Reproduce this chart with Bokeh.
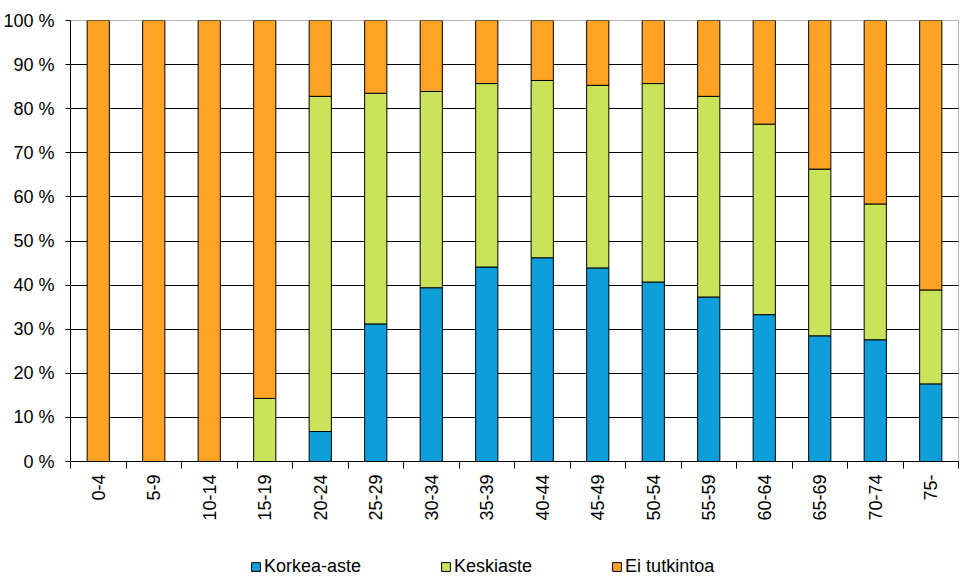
import math
from bokeh.plotting import figure
from bokeh.layouts import column
from bokeh.models import (ColumnDataSource, FixedTicker, PrintfTickFormatter,
                          Legend, LegendItem, Range1d, LinearAxis, Grid)
from bokeh.embed import file_html
from bokeh.resources import INLINE

categories = ["0-4", "5-9", "10-14", "15-19", "20-24", "25-29", "30-34", "35-39",
              "40-44", "45-49", "50-54", "55-59", "60-64", "65-69", "70-74", "75-"]
korkea = [0, 0, 0, 0, 6.8, 31.2, 39.4, 44.1, 46.2, 43.9, 40.7, 37.3, 33.3, 28.5, 27.6, 17.6]
keski = [0, 0, 0, 14.3, 76.0, 52.3, 44.5, 41.6, 40.2, 41.4, 45.0, 45.5, 43.2, 37.8, 30.8, 21.3]
ei = [100, 100, 100, 85.7, 17.2, 16.5, 16.1, 14.3, 13.6, 14.7, 14.3, 17.2, 23.5, 33.7, 41.6, 61.1]
series = ["Korkea-aste", "Keskiaste", "Ei tutkintoa"]
colors = ["#0E9FDB", "#C9E45B", "#FFA324"]
y_ticks = list(range(0, 101, 10))

xs = [i + 0.5 for i in range(len(categories))]
src = ColumnDataSource(dict(x=xs, k=korkea, m=keski, e=ei))

FONT = "Liberation Sans"

p = figure(width=962, height=535, output_backend="svg", toolbar_location=None,
           x_range=Range1d(0, len(categories)), y_range=Range1d(0, 100),
           min_border_left=70, min_border_top=20, min_border_right=4,
           min_border_bottom=74, x_axis_location=None, y_axis_location=None)

renderers = p.vbar_stack(["k", "m", "e"], x="x", width=0.4, source=src,
                         fill_color=colors, line_color="black", line_width=1)

# y axis
yaxis = LinearAxis(ticker=FixedTicker(ticks=y_ticks),
                   formatter=PrintfTickFormatter(format="%d %%"))
yaxis.major_tick_in = 0
yaxis.major_tick_out = 5
yaxis.minor_tick_out = 0
yaxis.minor_tick_in = 0
yaxis.axis_line_color = "black"
yaxis.major_label_text_font = FONT
yaxis.major_label_text_font_size = "18px"
yaxis.major_label_text_color = "black"
yaxis.major_label_standoff = 11
p.add_layout(yaxis, "left")

# x axis: labels at centres, ticks between categories
xaxis = LinearAxis(ticker=FixedTicker(ticks=xs, minor_ticks=list(range(len(categories) + 1))))
xaxis.major_label_overrides = {x: c for x, c in zip(xs, categories)}
xaxis.major_tick_in = 0
xaxis.major_tick_out = 0
xaxis.minor_tick_in = 0
xaxis.minor_tick_out = 7
xaxis.minor_tick_line_color = "black"
xaxis.axis_line_color = "black"
xaxis.major_label_orientation = math.pi / 2
xaxis.major_label_text_font = FONT
xaxis.major_label_text_font_size = "18px"
xaxis.major_label_text_color = "black"
xaxis.major_label_standoff = 6
p.add_layout(xaxis, "below")

p.ygrid.grid_line_color = None
p.xgrid.grid_line_color = None
grid = Grid(dimension=1, ticker=FixedTicker(ticks=y_ticks), grid_line_color="black",
            grid_line_width=1, level="underlay")
p.add_layout(grid)
p.outline_line_color = "#b8b8b8"
p.background_fill_color = "white"
p.border_fill_color = "white"

# legend in a strip below the chart (hidden copies of the series provide the swatches)
lf = figure(width=962, height=45, output_backend="svg", toolbar_location=None,
            x_range=Range1d(0, len(categories)), y_range=Range1d(0, 100),
            min_border_left=0, min_border_right=0, min_border_top=0, min_border_bottom=0,
            x_axis_location=None, y_axis_location=None)
lf.outline_line_color = None
lf.xgrid.grid_line_color = None
lf.ygrid.grid_line_color = None
lrs = lf.vbar_stack(["k", "m", "e"], x="x", width=0.4, source=src,
                    fill_color=colors, line_color="black", line_width=1, visible=False)

legend = Legend(items=[LegendItem(label=s, renderers=[r]) for s, r in zip(series, lrs)],
                orientation="horizontal", location=(180, 3))
legend.margin = 0
legend.padding = 0
legend.spacing = 79
legend.border_line_color = None
legend.background_fill_alpha = 0
legend.inactive_fill_alpha = 0
legend.label_text_font = FONT
legend.label_text_font_size = "18px"
legend.label_text_color = "black"
legend.glyph_width = 11
legend.glyph_height = 11
legend.label_standoff = 3
lf.add_layout(legend, "center")

layout = column(p, lf, spacing=0)
open("out.html", "w").write(file_html(layout, INLINE))
